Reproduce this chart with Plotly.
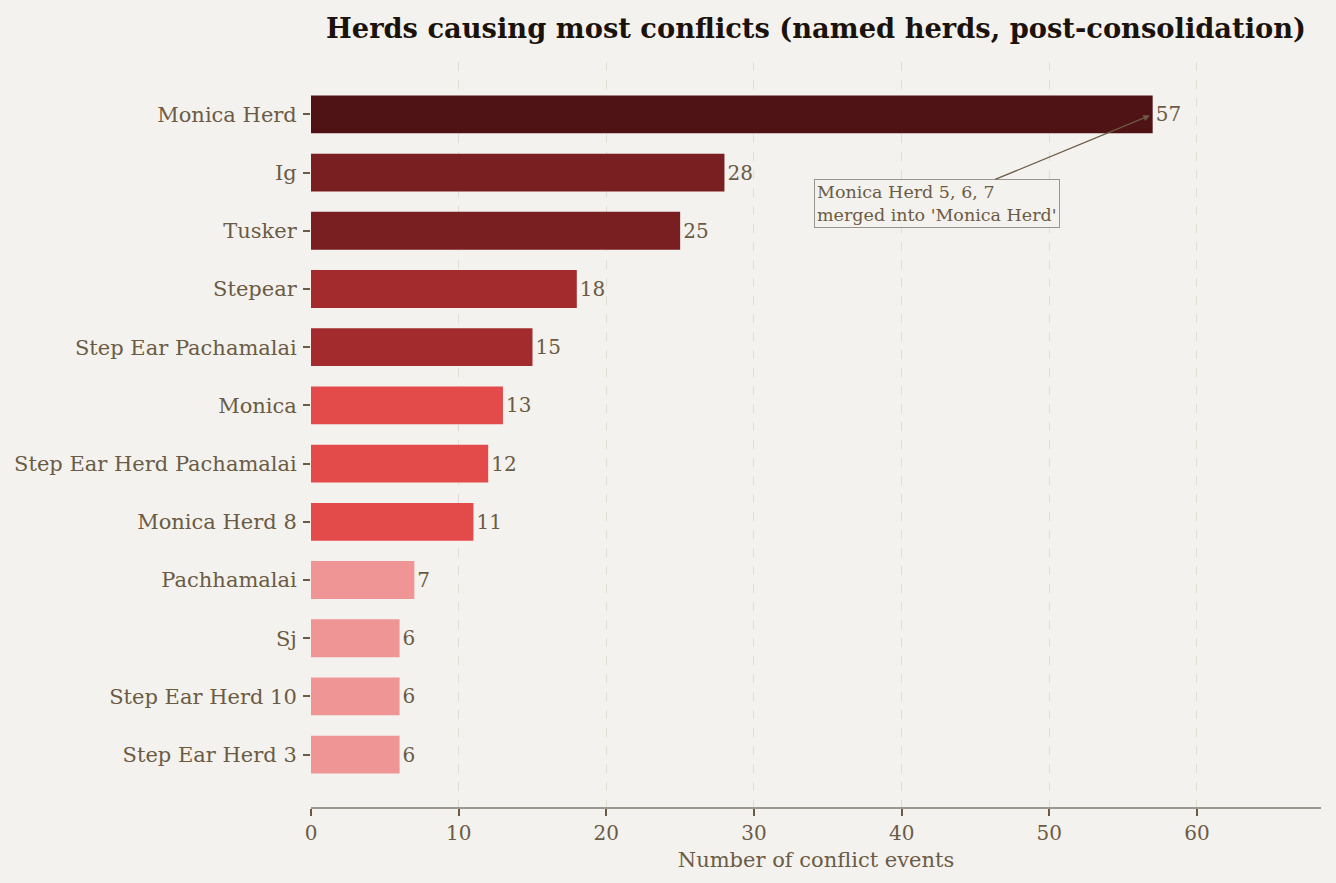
import plotly.graph_objects as go

herds = ["Monica Herd", "Ig", "Tusker", "Stepear", "Step Ear Pachamalai", "Monica",
         "Step Ear Herd Pachamalai", "Monica Herd 8", "Pachhamalai", "Sj",
         "Step Ear Herd 10", "Step Ear Herd 3"]
conflicts = [57, 28, 25, 18, 15, 13, 12, 11, 7, 6, 6, 6]
bar_colors = ["#4f1315", "#7a1f21", "#7a1f21", "#a32b2e", "#a32b2e", "#e34b4b",
              "#e34b4b", "#e34b4b", "#ef9595", "#ef9595", "#ef9595", "#ef9595"]
note_text = "Monica Herd 5, 6, 7<br>merged into 'Monica Herd'"

BROWN = "#6b5b45"
BG = "#f4f2ee"
FONT = "DejaVu Serif"

fig = go.Figure()
fig.add_trace(go.Bar(
    x=conflicts, y=herds, orientation="h",
    marker_color=bar_colors, marker_line_width=0,
    width=0.65,
    text=[str(v) for v in conflicts], textposition="outside",
    textfont=dict(family=FONT, size=20, color=BROWN),
    cliponaxis=False, showlegend=False,
))

# note box with arrow pointing at the merged herd
fig.add_annotation(
    x=57, y=0, xref="x", yref="y",
    ax=42.4, ay=1.53, axref="x", ayref="y",
    text=note_text, align="left",
    font=dict(family=FONT, size=17.5, color=BROWN),
    bgcolor=BG, bordercolor="#9a958c", borderwidth=1, borderpad=2,
    showarrow=True, arrowhead=2, arrowsize=1, arrowwidth=1.3,
    arrowcolor=BROWN, standoff=3,
)

fig.update_layout(
    width=1336, height=883,
    paper_bgcolor=BG, plot_bgcolor=BG,
    margin=dict(l=311, r=15, t=62, b=76),
    title=dict(text="<b>Herds causing most conflicts (named herds, post-consolidation)</b>",
               x=0.5, xref="paper", xanchor="center", y=0.968, yanchor="middle",
               font=dict(family=FONT, size=27.3, color="#1a120b")),
    font=dict(family=FONT, color=BROWN),
)
fig.update_xaxes(
    range=[0, 68.4], dtick=10, tick0=0,
    showgrid=True, gridcolor="#e2ddd3", griddash="dash", gridwidth=1,
    zeroline=False,
    showline=True, linecolor="#9a978e", linewidth=2,
    ticks="outside", ticklen=7, tickcolor=BROWN, tickwidth=1.5,
    tickfont=dict(family=FONT, size=20, color=BROWN),
    title=dict(text="Number of conflict events", font=dict(family=FONT, size=21, color=BROWN), standoff=8),
)
fig.update_yaxes(
    range=[11.9, -0.9],
    showgrid=False, zeroline=False, showline=False,
    ticks="outside", ticklen=7, tickcolor=BROWN, tickwidth=1.5,
    ticklabelstandoff=2,
    tickfont=dict(family=FONT, size=21, color=BROWN),
)

fig.write_html("out.html", config={"displayModeBar": False},
               post_script="document.body.style.margin='0';")
